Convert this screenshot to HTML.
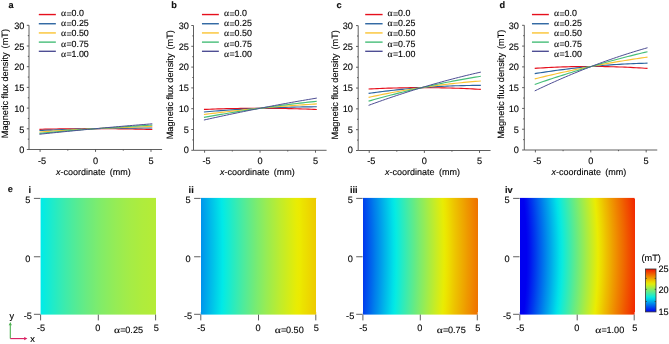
<!DOCTYPE html>
<html><head><meta charset="utf-8"><style>
html,body{margin:0;padding:0;background:#fff;}
body{width:669px;height:344px;overflow:hidden;}
svg{display:block;font-family:"Liberation Sans", sans-serif;}
text{filter:grayscale(1);text-rendering:geometricPrecision;stroke:#000;stroke-width:0.12px;}
</style></head><body>
<svg width="669" height="344" viewBox="0 0 669 344">
<defs><linearGradient id="g0" gradientUnits="userSpaceOnUse" x1="26.60" y1="0" x2="170.00" y2="0"><stop offset="0.0000" stop-color="rgb(0, 192, 233)"/><stop offset="0.0208" stop-color="rgb(0, 201, 233)"/><stop offset="0.0417" stop-color="rgb(0, 210, 233)"/><stop offset="0.0625" stop-color="rgb(0, 219, 233)"/><stop offset="0.0833" stop-color="rgb(0, 228, 232)"/><stop offset="0.1042" stop-color="rgb(1, 235, 231)"/><stop offset="0.1250" stop-color="rgb(9, 235, 223)"/><stop offset="0.1458" stop-color="rgb(17, 235, 215)"/><stop offset="0.1667" stop-color="rgb(25, 235, 207)"/><stop offset="0.1875" stop-color="rgb(33, 235, 200)"/><stop offset="0.2083" stop-color="rgb(40, 235, 192)"/><stop offset="0.2292" stop-color="rgb(48, 235, 185)"/><stop offset="0.2500" stop-color="rgb(55, 235, 178)"/><stop offset="0.2708" stop-color="rgb(62, 235, 171)"/><stop offset="0.2917" stop-color="rgb(68, 235, 165)"/><stop offset="0.3125" stop-color="rgb(75, 235, 158)"/><stop offset="0.3333" stop-color="rgb(81, 235, 152)"/><stop offset="0.3542" stop-color="rgb(87, 235, 146)"/><stop offset="0.3750" stop-color="rgb(93, 235, 140)"/><stop offset="0.3958" stop-color="rgb(99, 235, 135)"/><stop offset="0.4167" stop-color="rgb(105, 235, 129)"/><stop offset="0.4375" stop-color="rgb(110, 235, 124)"/><stop offset="0.4583" stop-color="rgb(115, 235, 119)"/><stop offset="0.4792" stop-color="rgb(120, 236, 114)"/><stop offset="0.5000" stop-color="rgb(125, 236, 109)"/><stop offset="0.5208" stop-color="rgb(130, 236, 104)"/><stop offset="0.5417" stop-color="rgb(134, 236, 100)"/><stop offset="0.5625" stop-color="rgb(138, 236, 96)"/><stop offset="0.5833" stop-color="rgb(142, 236, 92)"/><stop offset="0.6042" stop-color="rgb(146, 236, 88)"/><stop offset="0.6250" stop-color="rgb(150, 236, 85)"/><stop offset="0.6458" stop-color="rgb(153, 236, 81)"/><stop offset="0.6667" stop-color="rgb(157, 236, 78)"/><stop offset="0.6875" stop-color="rgb(160, 236, 75)"/><stop offset="0.7083" stop-color="rgb(163, 236, 72)"/><stop offset="0.7292" stop-color="rgb(166, 236, 69)"/><stop offset="0.7500" stop-color="rgb(168, 236, 67)"/><stop offset="0.7708" stop-color="rgb(170, 236, 64)"/><stop offset="0.7917" stop-color="rgb(173, 236, 62)"/><stop offset="0.8125" stop-color="rgb(175, 236, 60)"/><stop offset="0.8333" stop-color="rgb(176, 236, 59)"/><stop offset="0.8542" stop-color="rgb(178, 236, 57)"/><stop offset="0.8750" stop-color="rgb(179, 236, 56)"/><stop offset="0.8958" stop-color="rgb(180, 236, 55)"/><stop offset="0.9167" stop-color="rgb(182, 236, 54)"/><stop offset="0.9375" stop-color="rgb(182, 236, 53)"/><stop offset="0.9583" stop-color="rgb(183, 236, 52)"/><stop offset="0.9792" stop-color="rgb(183, 236, 52)"/><stop offset="1.0000" stop-color="rgb(184, 236, 51)"/></linearGradient><linearGradient id="g1" gradientUnits="userSpaceOnUse" x1="186.80" y1="0" x2="330.20" y2="0"><stop offset="0.0000" stop-color="rgb(0, 80, 237)"/><stop offset="0.0208" stop-color="rgb(0, 93, 237)"/><stop offset="0.0417" stop-color="rgb(0, 107, 236)"/><stop offset="0.0625" stop-color="rgb(0, 120, 236)"/><stop offset="0.0833" stop-color="rgb(0, 134, 235)"/><stop offset="0.1042" stop-color="rgb(0, 147, 235)"/><stop offset="0.1250" stop-color="rgb(0, 160, 235)"/><stop offset="0.1458" stop-color="rgb(0, 172, 234)"/><stop offset="0.1667" stop-color="rgb(0, 185, 234)"/><stop offset="0.1875" stop-color="rgb(0, 197, 233)"/><stop offset="0.2083" stop-color="rgb(0, 209, 233)"/><stop offset="0.2292" stop-color="rgb(0, 221, 232)"/><stop offset="0.2500" stop-color="rgb(0, 233, 232)"/><stop offset="0.2708" stop-color="rgb(10, 235, 222)"/><stop offset="0.2917" stop-color="rgb(21, 235, 211)"/><stop offset="0.3125" stop-color="rgb(32, 235, 200)"/><stop offset="0.3333" stop-color="rgb(43, 235, 189)"/><stop offset="0.3542" stop-color="rgb(54, 235, 179)"/><stop offset="0.3750" stop-color="rgb(65, 235, 168)"/><stop offset="0.3958" stop-color="rgb(76, 235, 158)"/><stop offset="0.4167" stop-color="rgb(86, 235, 148)"/><stop offset="0.4375" stop-color="rgb(96, 235, 138)"/><stop offset="0.4583" stop-color="rgb(106, 235, 128)"/><stop offset="0.4792" stop-color="rgb(116, 235, 118)"/><stop offset="0.5000" stop-color="rgb(125, 236, 109)"/><stop offset="0.5208" stop-color="rgb(134, 236, 100)"/><stop offset="0.5417" stop-color="rgb(144, 236, 91)"/><stop offset="0.5625" stop-color="rgb(153, 236, 82)"/><stop offset="0.5833" stop-color="rgb(161, 236, 73)"/><stop offset="0.6042" stop-color="rgb(170, 236, 65)"/><stop offset="0.6250" stop-color="rgb(178, 236, 57)"/><stop offset="0.6458" stop-color="rgb(187, 236, 49)"/><stop offset="0.6667" stop-color="rgb(195, 236, 41)"/><stop offset="0.6875" stop-color="rgb(202, 236, 33)"/><stop offset="0.7083" stop-color="rgb(210, 236, 26)"/><stop offset="0.7292" stop-color="rgb(217, 236, 18)"/><stop offset="0.7500" stop-color="rgb(225, 236, 11)"/><stop offset="0.7708" stop-color="rgb(232, 236, 4)"/><stop offset="0.7917" stop-color="rgb(236, 234, 0)"/><stop offset="0.8125" stop-color="rgb(236, 227, 0)"/><stop offset="0.8333" stop-color="rgb(236, 222, 0)"/><stop offset="0.8542" stop-color="rgb(237, 216, 0)"/><stop offset="0.8750" stop-color="rgb(237, 210, 0)"/><stop offset="0.8958" stop-color="rgb(237, 205, 0)"/><stop offset="0.9167" stop-color="rgb(237, 199, 0)"/><stop offset="0.9375" stop-color="rgb(237, 194, 0)"/><stop offset="0.9583" stop-color="rgb(237, 189, 0)"/><stop offset="0.9792" stop-color="rgb(237, 185, 0)"/><stop offset="1.0000" stop-color="rgb(238, 180, 0)"/></linearGradient><linearGradient id="g1s0" href="#g1" gradientTransform="translate(-1.32,0)"/><linearGradient id="g1s1" href="#g1" gradientTransform="translate(-1.27,0)"/><linearGradient id="g1s2" href="#g1" gradientTransform="translate(-1.21,0)"/><linearGradient id="g1s3" href="#g1" gradientTransform="translate(-1.12,0)"/><linearGradient id="g1s4" href="#g1" gradientTransform="translate(-1.04,0)"/><linearGradient id="g1s5" href="#g1" gradientTransform="translate(-0.96,0)"/><linearGradient id="g1s6" href="#g1" gradientTransform="translate(-0.88,0)"/><linearGradient id="g1s7" href="#g1" gradientTransform="translate(-0.81,0)"/><linearGradient id="g1s8" href="#g1" gradientTransform="translate(-0.74,0)"/><linearGradient id="g1s9" href="#g1" gradientTransform="translate(-0.67,0)"/><linearGradient id="g1s10" href="#g1" gradientTransform="translate(-0.61,0)"/><linearGradient id="g1s11" href="#g1" gradientTransform="translate(-0.55,0)"/><linearGradient id="g1s12" href="#g1" gradientTransform="translate(-0.49,0)"/><linearGradient id="g1s13" href="#g1" gradientTransform="translate(-0.44,0)"/><linearGradient id="g1s14" href="#g1" gradientTransform="translate(-0.39,0)"/><linearGradient id="g1s15" href="#g1" gradientTransform="translate(-0.34,0)"/><linearGradient id="g1s16" href="#g1" gradientTransform="translate(-0.29,0)"/><linearGradient id="g1s17" href="#g1" gradientTransform="translate(-0.25,0)"/><linearGradient id="g1s18" href="#g1" gradientTransform="translate(-0.21,0)"/><linearGradient id="g1s19" href="#g1" gradientTransform="translate(-0.18,0)"/><linearGradient id="g1s20" href="#g1" gradientTransform="translate(-0.15,0)"/><linearGradient id="g1s21" href="#g1" gradientTransform="translate(-0.12,0)"/><linearGradient id="g1s22" href="#g1" gradientTransform="translate(-0.09,0)"/><linearGradient id="g1s23" href="#g1" gradientTransform="translate(-0.07,0)"/><linearGradient id="g1s24" href="#g1" gradientTransform="translate(-0.05,0)"/><linearGradient id="g1s25" href="#g1" gradientTransform="translate(-0.03,0)"/><linearGradient id="g1s26" href="#g1" gradientTransform="translate(-0.02,0)"/><linearGradient id="g1s27" href="#g1" gradientTransform="translate(-0.01,0)"/><linearGradient id="g1s28" href="#g1" gradientTransform="translate(-0.00,0)"/><linearGradient id="g1s29" href="#g1" gradientTransform="translate(-0.00,0)"/><linearGradient id="g1s30" href="#g1" gradientTransform="translate(-0.00,0)"/><linearGradient id="g1s31" href="#g1" gradientTransform="translate(-0.00,0)"/><linearGradient id="g1s32" href="#g1" gradientTransform="translate(-0.01,0)"/><linearGradient id="g1s33" href="#g1" gradientTransform="translate(-0.02,0)"/><linearGradient id="g1s34" href="#g1" gradientTransform="translate(-0.03,0)"/><linearGradient id="g1s35" href="#g1" gradientTransform="translate(-0.05,0)"/><linearGradient id="g1s36" href="#g1" gradientTransform="translate(-0.06,0)"/><linearGradient id="g1s37" href="#g1" gradientTransform="translate(-0.09,0)"/><linearGradient id="g1s38" href="#g1" gradientTransform="translate(-0.11,0)"/><linearGradient id="g1s39" href="#g1" gradientTransform="translate(-0.14,0)"/><linearGradient id="g1s40" href="#g1" gradientTransform="translate(-0.17,0)"/><linearGradient id="g1s41" href="#g1" gradientTransform="translate(-0.20,0)"/><linearGradient id="g1s42" href="#g1" gradientTransform="translate(-0.24,0)"/><linearGradient id="g1s43" href="#g1" gradientTransform="translate(-0.28,0)"/><linearGradient id="g1s44" href="#g1" gradientTransform="translate(-0.33,0)"/><linearGradient id="g1s45" href="#g1" gradientTransform="translate(-0.37,0)"/><linearGradient id="g1s46" href="#g1" gradientTransform="translate(-0.42,0)"/><linearGradient id="g1s47" href="#g1" gradientTransform="translate(-0.48,0)"/><linearGradient id="g1s48" href="#g1" gradientTransform="translate(-0.53,0)"/><linearGradient id="g1s49" href="#g1" gradientTransform="translate(-0.59,0)"/><linearGradient id="g1s50" href="#g1" gradientTransform="translate(-0.66,0)"/><linearGradient id="g1s51" href="#g1" gradientTransform="translate(-0.72,0)"/><linearGradient id="g1s52" href="#g1" gradientTransform="translate(-0.79,0)"/><linearGradient id="g1s53" href="#g1" gradientTransform="translate(-0.86,0)"/><linearGradient id="g1s54" href="#g1" gradientTransform="translate(-0.94,0)"/><linearGradient id="g1s55" href="#g1" gradientTransform="translate(-1.02,0)"/><linearGradient id="g1s56" href="#g1" gradientTransform="translate(-1.10,0)"/><linearGradient id="g1s57" href="#g1" gradientTransform="translate(-1.18,0)"/><linearGradient id="g1s58" href="#g1" gradientTransform="translate(-1.29,0)"/><linearGradient id="g2" gradientUnits="userSpaceOnUse" x1="348.90" y1="0" x2="491.70" y2="0"><stop offset="0.0000" stop-color="rgb(0, 0, 240)"/><stop offset="0.0208" stop-color="rgb(0, 0, 240)"/><stop offset="0.0417" stop-color="rgb(0, 3, 240)"/><stop offset="0.0625" stop-color="rgb(0, 21, 239)"/><stop offset="0.0833" stop-color="rgb(0, 39, 239)"/><stop offset="0.1042" stop-color="rgb(0, 57, 238)"/><stop offset="0.1250" stop-color="rgb(0, 75, 237)"/><stop offset="0.1458" stop-color="rgb(0, 92, 237)"/><stop offset="0.1667" stop-color="rgb(0, 109, 236)"/><stop offset="0.1875" stop-color="rgb(0, 127, 236)"/><stop offset="0.2083" stop-color="rgb(0, 143, 235)"/><stop offset="0.2292" stop-color="rgb(0, 160, 235)"/><stop offset="0.2500" stop-color="rgb(0, 177, 234)"/><stop offset="0.2708" stop-color="rgb(0, 193, 233)"/><stop offset="0.2917" stop-color="rgb(0, 209, 233)"/><stop offset="0.3125" stop-color="rgb(0, 225, 232)"/><stop offset="0.3333" stop-color="rgb(6, 235, 226)"/><stop offset="0.3542" stop-color="rgb(21, 235, 211)"/><stop offset="0.3750" stop-color="rgb(37, 235, 196)"/><stop offset="0.3958" stop-color="rgb(52, 235, 181)"/><stop offset="0.4167" stop-color="rgb(67, 235, 166)"/><stop offset="0.4375" stop-color="rgb(82, 235, 152)"/><stop offset="0.4583" stop-color="rgb(96, 235, 137)"/><stop offset="0.4792" stop-color="rgb(111, 235, 123)"/><stop offset="0.5000" stop-color="rgb(125, 236, 109)"/><stop offset="0.5208" stop-color="rgb(139, 236, 95)"/><stop offset="0.5417" stop-color="rgb(153, 236, 82)"/><stop offset="0.5625" stop-color="rgb(167, 236, 68)"/><stop offset="0.5833" stop-color="rgb(180, 236, 55)"/><stop offset="0.6042" stop-color="rgb(194, 236, 42)"/><stop offset="0.6250" stop-color="rgb(207, 236, 29)"/><stop offset="0.6458" stop-color="rgb(220, 236, 16)"/><stop offset="0.6667" stop-color="rgb(232, 236, 4)"/><stop offset="0.6875" stop-color="rgb(236, 228, 0)"/><stop offset="0.7083" stop-color="rgb(237, 217, 0)"/><stop offset="0.7292" stop-color="rgb(237, 205, 0)"/><stop offset="0.7500" stop-color="rgb(237, 194, 0)"/><stop offset="0.7708" stop-color="rgb(237, 184, 0)"/><stop offset="0.7917" stop-color="rgb(238, 173, 0)"/><stop offset="0.8125" stop-color="rgb(238, 163, 0)"/><stop offset="0.8333" stop-color="rgb(238, 152, 0)"/><stop offset="0.8542" stop-color="rgb(239, 142, 0)"/><stop offset="0.8750" stop-color="rgb(239, 132, 0)"/><stop offset="0.8958" stop-color="rgb(239, 122, 0)"/><stop offset="0.9167" stop-color="rgb(239, 113, 0)"/><stop offset="0.9375" stop-color="rgb(240, 103, 0)"/><stop offset="0.9583" stop-color="rgb(240, 94, 0)"/><stop offset="0.9792" stop-color="rgb(240, 85, 0)"/><stop offset="1.0000" stop-color="rgb(240, 76, 0)"/></linearGradient><linearGradient id="g2s0" href="#g2" gradientTransform="translate(-1.75,0)"/><linearGradient id="g2s1" href="#g2" gradientTransform="translate(-1.69,0)"/><linearGradient id="g2s2" href="#g2" gradientTransform="translate(-1.60,0)"/><linearGradient id="g2s3" href="#g2" gradientTransform="translate(-1.49,0)"/><linearGradient id="g2s4" href="#g2" gradientTransform="translate(-1.38,0)"/><linearGradient id="g2s5" href="#g2" gradientTransform="translate(-1.27,0)"/><linearGradient id="g2s6" href="#g2" gradientTransform="translate(-1.17,0)"/><linearGradient id="g2s7" href="#g2" gradientTransform="translate(-1.07,0)"/><linearGradient id="g2s8" href="#g2" gradientTransform="translate(-0.98,0)"/><linearGradient id="g2s9" href="#g2" gradientTransform="translate(-0.89,0)"/><linearGradient id="g2s10" href="#g2" gradientTransform="translate(-0.81,0)"/><linearGradient id="g2s11" href="#g2" gradientTransform="translate(-0.73,0)"/><linearGradient id="g2s12" href="#g2" gradientTransform="translate(-0.65,0)"/><linearGradient id="g2s13" href="#g2" gradientTransform="translate(-0.58,0)"/><linearGradient id="g2s14" href="#g2" gradientTransform="translate(-0.51,0)"/><linearGradient id="g2s15" href="#g2" gradientTransform="translate(-0.45,0)"/><linearGradient id="g2s16" href="#g2" gradientTransform="translate(-0.39,0)"/><linearGradient id="g2s17" href="#g2" gradientTransform="translate(-0.33,0)"/><linearGradient id="g2s18" href="#g2" gradientTransform="translate(-0.28,0)"/><linearGradient id="g2s19" href="#g2" gradientTransform="translate(-0.24,0)"/><linearGradient id="g2s20" href="#g2" gradientTransform="translate(-0.19,0)"/><linearGradient id="g2s21" href="#g2" gradientTransform="translate(-0.16,0)"/><linearGradient id="g2s22" href="#g2" gradientTransform="translate(-0.12,0)"/><linearGradient id="g2s23" href="#g2" gradientTransform="translate(-0.09,0)"/><linearGradient id="g2s24" href="#g2" gradientTransform="translate(-0.07,0)"/><linearGradient id="g2s25" href="#g2" gradientTransform="translate(-0.04,0)"/><linearGradient id="g2s26" href="#g2" gradientTransform="translate(-0.03,0)"/><linearGradient id="g2s27" href="#g2" gradientTransform="translate(-0.01,0)"/><linearGradient id="g2s28" href="#g2" gradientTransform="translate(-0.01,0)"/><linearGradient id="g2s29" href="#g2" gradientTransform="translate(-0.00,0)"/><linearGradient id="g2s30" href="#g2" gradientTransform="translate(-0.00,0)"/><linearGradient id="g2s31" href="#g2" gradientTransform="translate(-0.00,0)"/><linearGradient id="g2s32" href="#g2" gradientTransform="translate(-0.01,0)"/><linearGradient id="g2s33" href="#g2" gradientTransform="translate(-0.02,0)"/><linearGradient id="g2s34" href="#g2" gradientTransform="translate(-0.04,0)"/><linearGradient id="g2s35" href="#g2" gradientTransform="translate(-0.06,0)"/><linearGradient id="g2s36" href="#g2" gradientTransform="translate(-0.09,0)"/><linearGradient id="g2s37" href="#g2" gradientTransform="translate(-0.11,0)"/><linearGradient id="g2s38" href="#g2" gradientTransform="translate(-0.15,0)"/><linearGradient id="g2s39" href="#g2" gradientTransform="translate(-0.18,0)"/><linearGradient id="g2s40" href="#g2" gradientTransform="translate(-0.23,0)"/><linearGradient id="g2s41" href="#g2" gradientTransform="translate(-0.27,0)"/><linearGradient id="g2s42" href="#g2" gradientTransform="translate(-0.32,0)"/><linearGradient id="g2s43" href="#g2" gradientTransform="translate(-0.37,0)"/><linearGradient id="g2s44" href="#g2" gradientTransform="translate(-0.43,0)"/><linearGradient id="g2s45" href="#g2" gradientTransform="translate(-0.50,0)"/><linearGradient id="g2s46" href="#g2" gradientTransform="translate(-0.56,0)"/><linearGradient id="g2s47" href="#g2" gradientTransform="translate(-0.63,0)"/><linearGradient id="g2s48" href="#g2" gradientTransform="translate(-0.71,0)"/><linearGradient id="g2s49" href="#g2" gradientTransform="translate(-0.79,0)"/><linearGradient id="g2s50" href="#g2" gradientTransform="translate(-0.87,0)"/><linearGradient id="g2s51" href="#g2" gradientTransform="translate(-0.96,0)"/><linearGradient id="g2s52" href="#g2" gradientTransform="translate(-1.05,0)"/><linearGradient id="g2s53" href="#g2" gradientTransform="translate(-1.14,0)"/><linearGradient id="g2s54" href="#g2" gradientTransform="translate(-1.24,0)"/><linearGradient id="g2s55" href="#g2" gradientTransform="translate(-1.35,0)"/><linearGradient id="g2s56" href="#g2" gradientTransform="translate(-1.46,0)"/><linearGradient id="g2s57" href="#g2" gradientTransform="translate(-1.57,0)"/><linearGradient id="g2s58" href="#g2" gradientTransform="translate(-1.70,0)"/><linearGradient id="g3" gradientUnits="userSpaceOnUse" x1="505.80" y1="0" x2="648.60" y2="0"><stop offset="0.0000" stop-color="rgb(0, 0, 240)"/><stop offset="0.0208" stop-color="rgb(0, 0, 240)"/><stop offset="0.0417" stop-color="rgb(0, 0, 240)"/><stop offset="0.0625" stop-color="rgb(0, 0, 240)"/><stop offset="0.0833" stop-color="rgb(0, 0, 240)"/><stop offset="0.1042" stop-color="rgb(0, 0, 240)"/><stop offset="0.1250" stop-color="rgb(0, 0, 240)"/><stop offset="0.1458" stop-color="rgb(0, 0, 240)"/><stop offset="0.1667" stop-color="rgb(0, 16, 239)"/><stop offset="0.1875" stop-color="rgb(0, 38, 239)"/><stop offset="0.2083" stop-color="rgb(0, 59, 238)"/><stop offset="0.2292" stop-color="rgb(0, 81, 237)"/><stop offset="0.2500" stop-color="rgb(0, 102, 237)"/><stop offset="0.2708" stop-color="rgb(0, 123, 236)"/><stop offset="0.2917" stop-color="rgb(0, 144, 235)"/><stop offset="0.3125" stop-color="rgb(0, 164, 234)"/><stop offset="0.3333" stop-color="rgb(0, 185, 234)"/><stop offset="0.3542" stop-color="rgb(0, 205, 233)"/><stop offset="0.3750" stop-color="rgb(0, 225, 232)"/><stop offset="0.3958" stop-color="rgb(10, 235, 222)"/><stop offset="0.4167" stop-color="rgb(30, 235, 203)"/><stop offset="0.4375" stop-color="rgb(49, 235, 184)"/><stop offset="0.4583" stop-color="rgb(68, 235, 165)"/><stop offset="0.4792" stop-color="rgb(88, 235, 146)"/><stop offset="0.5000" stop-color="rgb(107, 235, 127)"/><stop offset="0.5208" stop-color="rgb(125, 236, 109)"/><stop offset="0.5417" stop-color="rgb(144, 236, 90)"/><stop offset="0.5625" stop-color="rgb(163, 236, 72)"/><stop offset="0.5833" stop-color="rgb(181, 236, 54)"/><stop offset="0.6042" stop-color="rgb(199, 236, 37)"/><stop offset="0.6250" stop-color="rgb(217, 236, 19)"/><stop offset="0.6458" stop-color="rgb(234, 236, 2)"/><stop offset="0.6667" stop-color="rgb(236, 222, 0)"/><stop offset="0.6875" stop-color="rgb(237, 206, 0)"/><stop offset="0.7083" stop-color="rgb(237, 190, 0)"/><stop offset="0.7292" stop-color="rgb(238, 175, 0)"/><stop offset="0.7500" stop-color="rgb(238, 159, 0)"/><stop offset="0.7708" stop-color="rgb(239, 144, 0)"/><stop offset="0.7917" stop-color="rgb(239, 129, 0)"/><stop offset="0.8125" stop-color="rgb(239, 115, 0)"/><stop offset="0.8333" stop-color="rgb(240, 100, 0)"/><stop offset="0.8542" stop-color="rgb(240, 85, 0)"/><stop offset="0.8750" stop-color="rgb(241, 71, 0)"/><stop offset="0.8958" stop-color="rgb(241, 57, 0)"/><stop offset="0.9167" stop-color="rgb(241, 43, 0)"/><stop offset="0.9375" stop-color="rgb(242, 30, 0)"/><stop offset="0.9583" stop-color="rgb(242, 20, 0)"/><stop offset="0.9792" stop-color="rgb(242, 20, 0)"/><stop offset="1.0000" stop-color="rgb(242, 20, 0)"/></linearGradient><linearGradient id="g3s0" href="#g3" gradientTransform="translate(-3.17,0)"/><linearGradient id="g3s1" href="#g3" gradientTransform="translate(-3.06,0)"/><linearGradient id="g3s2" href="#g3" gradientTransform="translate(-2.90,0)"/><linearGradient id="g3s3" href="#g3" gradientTransform="translate(-2.69,0)"/><linearGradient id="g3s4" href="#g3" gradientTransform="translate(-2.49,0)"/><linearGradient id="g3s5" href="#g3" gradientTransform="translate(-2.30,0)"/><linearGradient id="g3s6" href="#g3" gradientTransform="translate(-2.12,0)"/><linearGradient id="g3s7" href="#g3" gradientTransform="translate(-1.94,0)"/><linearGradient id="g3s8" href="#g3" gradientTransform="translate(-1.78,0)"/><linearGradient id="g3s9" href="#g3" gradientTransform="translate(-1.62,0)"/><linearGradient id="g3s10" href="#g3" gradientTransform="translate(-1.46,0)"/><linearGradient id="g3s11" href="#g3" gradientTransform="translate(-1.32,0)"/><linearGradient id="g3s12" href="#g3" gradientTransform="translate(-1.18,0)"/><linearGradient id="g3s13" href="#g3" gradientTransform="translate(-1.05,0)"/><linearGradient id="g3s14" href="#g3" gradientTransform="translate(-0.93,0)"/><linearGradient id="g3s15" href="#g3" gradientTransform="translate(-0.81,0)"/><linearGradient id="g3s16" href="#g3" gradientTransform="translate(-0.70,0)"/><linearGradient id="g3s17" href="#g3" gradientTransform="translate(-0.61,0)"/><linearGradient id="g3s18" href="#g3" gradientTransform="translate(-0.51,0)"/><linearGradient id="g3s19" href="#g3" gradientTransform="translate(-0.43,0)"/><linearGradient id="g3s20" href="#g3" gradientTransform="translate(-0.35,0)"/><linearGradient id="g3s21" href="#g3" gradientTransform="translate(-0.28,0)"/><linearGradient id="g3s22" href="#g3" gradientTransform="translate(-0.22,0)"/><linearGradient id="g3s23" href="#g3" gradientTransform="translate(-0.17,0)"/><linearGradient id="g3s24" href="#g3" gradientTransform="translate(-0.12,0)"/><linearGradient id="g3s25" href="#g3" gradientTransform="translate(-0.08,0)"/><linearGradient id="g3s26" href="#g3" gradientTransform="translate(-0.05,0)"/><linearGradient id="g3s27" href="#g3" gradientTransform="translate(-0.03,0)"/><linearGradient id="g3s28" href="#g3" gradientTransform="translate(-0.01,0)"/><linearGradient id="g3s29" href="#g3" gradientTransform="translate(-0.00,0)"/><linearGradient id="g3s30" href="#g3" gradientTransform="translate(-0.00,0)"/><linearGradient id="g3s31" href="#g3" gradientTransform="translate(-0.01,0)"/><linearGradient id="g3s32" href="#g3" gradientTransform="translate(-0.02,0)"/><linearGradient id="g3s33" href="#g3" gradientTransform="translate(-0.04,0)"/><linearGradient id="g3s34" href="#g3" gradientTransform="translate(-0.07,0)"/><linearGradient id="g3s35" href="#g3" gradientTransform="translate(-0.11,0)"/><linearGradient id="g3s36" href="#g3" gradientTransform="translate(-0.15,0)"/><linearGradient id="g3s37" href="#g3" gradientTransform="translate(-0.21,0)"/><linearGradient id="g3s38" href="#g3" gradientTransform="translate(-0.27,0)"/><linearGradient id="g3s39" href="#g3" gradientTransform="translate(-0.33,0)"/><linearGradient id="g3s40" href="#g3" gradientTransform="translate(-0.41,0)"/><linearGradient id="g3s41" href="#g3" gradientTransform="translate(-0.49,0)"/><linearGradient id="g3s42" href="#g3" gradientTransform="translate(-0.58,0)"/><linearGradient id="g3s43" href="#g3" gradientTransform="translate(-0.68,0)"/><linearGradient id="g3s44" href="#g3" gradientTransform="translate(-0.78,0)"/><linearGradient id="g3s45" href="#g3" gradientTransform="translate(-0.90,0)"/><linearGradient id="g3s46" href="#g3" gradientTransform="translate(-1.02,0)"/><linearGradient id="g3s47" href="#g3" gradientTransform="translate(-1.15,0)"/><linearGradient id="g3s48" href="#g3" gradientTransform="translate(-1.28,0)"/><linearGradient id="g3s49" href="#g3" gradientTransform="translate(-1.43,0)"/><linearGradient id="g3s50" href="#g3" gradientTransform="translate(-1.58,0)"/><linearGradient id="g3s51" href="#g3" gradientTransform="translate(-1.73,0)"/><linearGradient id="g3s52" href="#g3" gradientTransform="translate(-1.90,0)"/><linearGradient id="g3s53" href="#g3" gradientTransform="translate(-2.07,0)"/><linearGradient id="g3s54" href="#g3" gradientTransform="translate(-2.26,0)"/><linearGradient id="g3s55" href="#g3" gradientTransform="translate(-2.45,0)"/><linearGradient id="g3s56" href="#g3" gradientTransform="translate(-2.64,0)"/><linearGradient id="g3s57" href="#g3" gradientTransform="translate(-2.85,0)"/><linearGradient id="g3s58" href="#g3" gradientTransform="translate(-3.09,0)"/><linearGradient id="cb" x1="0" x2="0" y1="0" y2="1"><stop offset="0.000" stop-color="rgb(242, 20, 0)"/><stop offset="0.050" stop-color="rgb(241, 52, 0)"/><stop offset="0.100" stop-color="rgb(240, 85, 0)"/><stop offset="0.150" stop-color="rgb(239, 117, 0)"/><stop offset="0.200" stop-color="rgb(238, 150, 0)"/><stop offset="0.250" stop-color="rgb(238, 182, 0)"/><stop offset="0.300" stop-color="rgb(237, 214, 0)"/><stop offset="0.350" stop-color="rgb(224, 236, 12)"/><stop offset="0.400" stop-color="rgb(189, 236, 46)"/><stop offset="0.450" stop-color="rgb(153, 236, 81)"/><stop offset="0.500" stop-color="rgb(118, 236, 116)"/><stop offset="0.550" stop-color="rgb(83, 235, 151)"/><stop offset="0.600" stop-color="rgb(47, 235, 186)"/><stop offset="0.650" stop-color="rgb(12, 235, 220)"/><stop offset="0.700" stop-color="rgb(0, 212, 233)"/><stop offset="0.750" stop-color="rgb(0, 176, 234)"/><stop offset="0.800" stop-color="rgb(0, 141, 235)"/><stop offset="0.850" stop-color="rgb(0, 106, 236)"/><stop offset="0.900" stop-color="rgb(0, 70, 238)"/><stop offset="0.950" stop-color="rgb(0, 35, 239)"/><stop offset="1.000" stop-color="rgb(0, 0, 240)"/></linearGradient></defs>
<text x="8.40" y="7.85" font-size="9.2" text-anchor="start" font-weight="bold" fill="#111" >a</text>
<path d="M29.00,25.30 V149.50 H162.08" fill="none" stroke="#4e4e4e" stroke-width="0.9"/>
<text x="24.40" y="153.45" font-size="9.2" text-anchor="end" font-weight="normal" fill="#000" >0</text>
<text x="24.40" y="132.68" font-size="9.2" text-anchor="end" font-weight="normal" fill="#000" >5</text>
<text x="24.40" y="111.90" font-size="9.2" text-anchor="end" font-weight="normal" fill="#000" >10</text>
<text x="24.40" y="91.12" font-size="9.2" text-anchor="end" font-weight="normal" fill="#000" >15</text>
<text x="24.40" y="70.35" font-size="9.2" text-anchor="end" font-weight="normal" fill="#000" >20</text>
<text x="24.40" y="49.58" font-size="9.2" text-anchor="end" font-weight="normal" fill="#000" >25</text>
<text x="24.40" y="28.80" font-size="9.2" text-anchor="end" font-weight="normal" fill="#000" >30</text>
<path d="M26.80,149.50 H29.00 M26.80,128.80 H29.00 M26.80,108.10 H29.00 M26.80,87.40 H29.00 M26.80,66.70 H29.00 M26.80,46.00 H29.00 M26.80,25.30 H29.00 M27.80,139.15 H29.00 M27.80,118.45 H29.00 M27.80,97.75 H29.00 M27.80,77.05 H29.00 M27.80,56.35 H29.00 M27.80,35.65 H29.00 M40.09,149.50 V151.90 M95.54,149.50 V151.90 M150.99,149.50 V151.90 M67.81,149.50 V150.70 M123.27,149.50 V150.70" stroke="#4e4e4e" stroke-width="0.9" fill="none"/>
<text x="42.09" y="163.70" font-size="9.2" text-anchor="middle" font-weight="normal" fill="#000" >-5</text>
<text x="95.54" y="163.70" font-size="9.2" text-anchor="middle" font-weight="normal" fill="#000" >0</text>
<text x="150.99" y="163.70" font-size="9.2" text-anchor="middle" font-weight="normal" fill="#000" >5</text>
<text x="56.00" y="175.2" font-size="9.0" fill="#000"><tspan font-style="italic">x</tspan>-coordinate<tspan dx="1.8"> (mm)</tspan></text>
<text transform="translate(8.40,83.60) rotate(-90)" font-size="9.2" text-anchor="middle" fill="#000">Magnetic flux density<tspan dx="1.5"> (mT)</tspan></text>
<polyline points="39.42,129.31 42.25,129.25 45.07,129.19 47.89,129.13 50.71,129.07 53.54,129.02 56.36,128.97 59.18,128.93 62.00,128.89 64.83,128.85 67.65,128.82 70.47,128.79 73.29,128.76 76.12,128.74 78.94,128.72 81.76,128.70 84.58,128.69 87.41,128.68 90.23,128.68 93.05,128.67 95.87,128.68 98.70,128.68 101.52,128.69 104.34,128.70 107.16,128.72 109.98,128.74 112.81,128.76 115.63,128.79 118.45,128.82 121.27,128.85 124.10,128.89 126.92,128.93 129.74,128.97 132.56,129.02 135.39,129.07 138.21,129.13 141.03,129.19 143.85,129.25 146.68,129.31 149.50,129.38 152.32,129.46" fill="none" stroke="#e60f1c" stroke-width="1.15"/>
<polyline points="39.42,130.53 42.25,130.41 45.07,130.29 47.89,130.17 50.71,130.06 53.54,129.95 56.36,129.85 59.18,129.74 62.00,129.64 64.83,129.55 67.65,129.45 70.47,129.36 73.29,129.27 76.12,129.19 78.94,129.10 81.76,129.02 84.58,128.95 87.41,128.87 90.23,128.80 93.05,128.73 95.87,128.67 98.70,128.61 101.52,128.55 104.34,128.49 107.16,128.44 109.98,128.38 112.81,128.34 115.63,128.29 118.45,128.25 121.27,128.21 124.10,128.17 126.92,128.14 129.74,128.11 132.56,128.08 135.39,128.06 138.21,128.04 141.03,128.02 143.85,128.00 146.68,127.99 149.50,127.98 152.32,127.97" fill="none" stroke="#2b64a0" stroke-width="1.15"/>
<polyline points="39.42,131.95 42.25,131.76 45.07,131.57 47.89,131.39 50.71,131.21 53.54,131.03 56.36,130.85 59.18,130.68 62.00,130.51 64.83,130.34 67.65,130.17 70.47,130.01 73.29,129.85 76.12,129.69 78.94,129.53 81.76,129.38 84.58,129.23 87.41,129.08 90.23,128.94 93.05,128.80 95.87,128.66 98.70,128.52 101.52,128.39 104.34,128.26 107.16,128.13 109.98,128.00 112.81,127.88 115.63,127.76 118.45,127.64 121.27,127.53 124.10,127.42 126.92,127.31 129.74,127.20 132.56,127.10 135.39,126.99 138.21,126.90 141.03,126.80 143.85,126.71 146.68,126.62 149.50,126.53 152.32,126.44" fill="none" stroke="#fac332" stroke-width="1.15"/>
<polyline points="39.42,133.38 42.25,133.11 45.07,132.85 47.89,132.59 50.71,132.33 53.54,132.08 56.36,131.83 59.18,131.59 62.00,131.34 64.83,131.10 67.65,130.86 70.47,130.63 73.29,130.40 76.12,130.17 78.94,129.94 81.76,129.72 84.58,129.50 87.41,129.28 90.23,129.07 93.05,128.86 95.87,128.65 98.70,128.45 101.52,128.25 104.34,128.05 107.16,127.85 109.98,127.66 112.81,127.47 115.63,127.28 118.45,127.10 121.27,126.92 124.10,126.74 126.92,126.57 129.74,126.39 132.56,126.23 135.39,126.06 138.21,125.90 141.03,125.74 143.85,125.58 146.68,125.43 149.50,125.28 152.32,125.13" fill="none" stroke="#46be78" stroke-width="1.15"/>
<polyline points="39.42,134.25 42.25,133.95 45.07,133.66 47.89,133.36 50.71,133.07 53.54,132.78 56.36,132.49 59.18,132.20 62.00,131.92 64.83,131.63 67.65,131.35 70.47,131.07 73.29,130.80 76.12,130.52 78.94,130.25 81.76,129.97 84.58,129.70 87.41,129.44 90.23,129.17 93.05,128.91 95.87,128.65 98.70,128.38 101.52,128.13 104.34,127.87 107.16,127.62 109.98,127.36 112.81,127.11 115.63,126.86 118.45,126.62 121.27,126.37 124.10,126.13 126.92,125.89 129.74,125.65 132.56,125.41 135.39,125.18 138.21,124.95 141.03,124.71 143.85,124.49 146.68,124.26 149.50,124.03 152.32,123.81" fill="none" stroke="#4e4e94" stroke-width="1.0"/>
<line x1="38.80" y1="14.55" x2="55.85" y2="14.55" stroke="#e60f1c" stroke-width="1.4"/>
<text x="0" y="0" font-size="9.2" font-family="'Liberation Serif', serif" fill="#000" transform="translate(60.90,16.30) scale(1.05,1)">&#945;</text><text x="66.50" y="16.60" font-size="8.9" fill="#000">=</text><text x="71.50" y="16.30" font-size="8.9" fill="#000">0.0</text>
<line x1="38.80" y1="23.74" x2="55.85" y2="23.74" stroke="#2b64a0" stroke-width="1.4"/>
<text x="0" y="0" font-size="9.2" font-family="'Liberation Serif', serif" fill="#000" transform="translate(60.90,26.37) scale(1.05,1)">&#945;</text><text x="66.50" y="26.67" font-size="8.9" fill="#000">=</text><text x="71.50" y="26.37" font-size="8.9" fill="#000">0.25</text>
<line x1="38.80" y1="32.93" x2="55.85" y2="32.93" stroke="#fac332" stroke-width="1.4"/>
<text x="0" y="0" font-size="9.2" font-family="'Liberation Serif', serif" fill="#000" transform="translate(60.90,36.44) scale(1.05,1)">&#945;</text><text x="66.50" y="36.74" font-size="8.9" fill="#000">=</text><text x="71.50" y="36.44" font-size="8.9" fill="#000">0.50</text>
<line x1="38.80" y1="42.12" x2="55.85" y2="42.12" stroke="#46be78" stroke-width="1.4"/>
<text x="0" y="0" font-size="9.2" font-family="'Liberation Serif', serif" fill="#000" transform="translate(60.90,46.51) scale(1.05,1)">&#945;</text><text x="66.50" y="46.81" font-size="8.9" fill="#000">=</text><text x="71.50" y="46.51" font-size="8.9" fill="#000">0.75</text>
<line x1="38.80" y1="51.31" x2="55.85" y2="51.31" stroke="#4e4e94" stroke-width="1.4"/>
<text x="0" y="0" font-size="9.2" font-family="'Liberation Serif', serif" fill="#000" transform="translate(60.90,56.58) scale(1.05,1)">&#945;</text><text x="66.50" y="56.88" font-size="8.9" fill="#000">=</text><text x="71.50" y="56.58" font-size="8.9" fill="#000">1.00</text>
<text x="171.30" y="7.85" font-size="9.2" text-anchor="start" font-weight="bold" fill="#111" >b</text>
<path d="M193.50,25.50 V150.30 H326.58" fill="none" stroke="#4e4e4e" stroke-width="0.9"/>
<text x="188.90" y="153.45" font-size="9.2" text-anchor="end" font-weight="normal" fill="#000" >0</text>
<text x="188.90" y="132.68" font-size="9.2" text-anchor="end" font-weight="normal" fill="#000" >5</text>
<text x="188.90" y="111.90" font-size="9.2" text-anchor="end" font-weight="normal" fill="#000" >10</text>
<text x="188.90" y="91.12" font-size="9.2" text-anchor="end" font-weight="normal" fill="#000" >15</text>
<text x="188.90" y="70.35" font-size="9.2" text-anchor="end" font-weight="normal" fill="#000" >20</text>
<text x="188.90" y="49.58" font-size="9.2" text-anchor="end" font-weight="normal" fill="#000" >25</text>
<text x="188.90" y="28.80" font-size="9.2" text-anchor="end" font-weight="normal" fill="#000" >30</text>
<path d="M191.30,150.30 H193.50 M191.30,129.50 H193.50 M191.30,108.70 H193.50 M191.30,87.90 H193.50 M191.30,67.10 H193.50 M191.30,46.30 H193.50 M191.30,25.50 H193.50 M192.30,139.90 H193.50 M192.30,119.10 H193.50 M192.30,98.30 H193.50 M192.30,77.50 H193.50 M192.30,56.70 H193.50 M192.30,35.90 H193.50 M204.59,150.30 V152.70 M260.04,150.30 V152.70 M315.49,150.30 V152.70 M232.31,150.30 V151.50 M287.76,150.30 V151.50" stroke="#4e4e4e" stroke-width="0.9" fill="none"/>
<text x="206.59" y="163.70" font-size="9.2" text-anchor="middle" font-weight="normal" fill="#000" >-5</text>
<text x="260.04" y="163.70" font-size="9.2" text-anchor="middle" font-weight="normal" fill="#000" >0</text>
<text x="315.49" y="163.70" font-size="9.2" text-anchor="middle" font-weight="normal" fill="#000" >5</text>
<text x="220.00" y="175.2" font-size="9.0" fill="#000"><tspan font-style="italic">x</tspan>-coordinate<tspan dx="1.8"> (mm)</tspan></text>
<text transform="translate(173.40,84.70) rotate(-90)" font-size="9.2" text-anchor="middle" fill="#000">Magnetic flux density<tspan dx="1.5"> (mT)</tspan></text>
<polyline points="203.92,109.43 206.75,109.32 209.57,109.21 212.39,109.11 215.21,109.02 218.04,108.93 220.86,108.84 223.68,108.77 226.50,108.69 229.33,108.63 232.15,108.57 234.97,108.51 237.79,108.46 240.62,108.42 243.44,108.38 246.26,108.35 249.08,108.33 251.91,108.31 254.73,108.29 257.55,108.29 260.37,108.28 263.20,108.29 266.02,108.30 268.84,108.31 271.66,108.33 274.48,108.36 277.31,108.39 280.13,108.43 282.95,108.48 285.77,108.53 288.60,108.58 291.42,108.64 294.24,108.71 297.06,108.78 299.89,108.86 302.71,108.95 305.53,109.04 308.35,109.14 311.18,109.24 314.00,109.35 316.82,109.46" fill="none" stroke="#e60f1c" stroke-width="1.15"/>
<polyline points="203.92,111.96 206.75,111.72 209.57,111.49 212.39,111.27 215.21,111.05 218.04,110.83 220.86,110.62 223.68,110.42 226.50,110.22 229.33,110.03 232.15,109.84 234.97,109.66 237.79,109.48 240.62,109.31 243.44,109.15 246.26,108.99 249.08,108.83 251.91,108.68 254.73,108.54 257.55,108.40 260.37,108.27 263.20,108.14 266.02,108.02 268.84,107.90 271.66,107.79 274.48,107.69 277.31,107.59 280.13,107.50 282.95,107.41 285.77,107.33 288.60,107.25 291.42,107.18 294.24,107.11 297.06,107.05 299.89,106.99 302.71,106.94 305.53,106.90 308.35,106.86 311.18,106.83 314.00,106.80 316.82,106.78" fill="none" stroke="#2b64a0" stroke-width="1.15"/>
<polyline points="203.92,114.48 206.75,114.13 209.57,113.78 212.39,113.43 215.21,113.09 218.04,112.75 220.86,112.42 223.68,112.09 226.50,111.76 229.33,111.45 232.15,111.13 234.97,110.82 237.79,110.52 240.62,110.22 243.44,109.92 246.26,109.63 249.08,109.35 251.91,109.07 254.73,108.79 257.55,108.52 260.37,108.25 263.20,107.99 266.02,107.73 268.84,107.48 271.66,107.23 274.48,106.99 277.31,106.75 280.13,106.52 282.95,106.29 285.77,106.07 288.60,105.85 291.42,105.63 294.24,105.42 297.06,105.22 299.89,105.02 302.71,104.82 305.53,104.63 308.35,104.45 311.18,104.27 314.00,104.09 316.82,103.92" fill="none" stroke="#fac332" stroke-width="1.15"/>
<polyline points="203.92,117.43 206.75,116.92 209.57,116.41 212.39,115.91 215.21,115.41 218.04,114.92 220.86,114.44 223.68,113.96 226.50,113.49 229.33,113.02 232.15,112.55 234.97,112.10 237.79,111.65 240.62,111.20 243.44,110.76 246.26,110.33 249.08,109.90 251.91,109.47 254.73,109.06 257.55,108.64 260.37,108.24 263.20,107.84 266.02,107.44 268.84,107.05 271.66,106.67 274.48,106.29 277.31,105.91 280.13,105.55 282.95,105.19 285.77,104.83 288.60,104.48 291.42,104.13 294.24,103.79 297.06,103.46 299.89,103.13 302.71,102.81 305.53,102.49 308.35,102.18 311.18,101.88 314.00,101.58 316.82,101.28" fill="none" stroke="#46be78" stroke-width="1.15"/>
<polyline points="203.92,120.04 206.75,119.41 209.57,118.78 212.39,118.16 215.21,117.54 218.04,116.93 220.86,116.32 223.68,115.71 226.50,115.11 229.33,114.51 232.15,113.92 234.97,113.33 237.79,112.75 240.62,112.17 243.44,111.59 246.26,111.02 249.08,110.45 251.91,109.89 254.73,109.33 257.55,108.77 260.37,108.22 263.20,107.67 266.02,107.13 268.84,106.59 271.66,106.06 274.48,105.53 277.31,105.00 280.13,104.48 282.95,103.96 285.77,103.45 288.60,102.94 291.42,102.43 294.24,101.93 297.06,101.44 299.89,100.95 302.71,100.46 305.53,99.97 308.35,99.49 311.18,99.02 314.00,98.55 316.82,98.08" fill="none" stroke="#4e4e94" stroke-width="1.0"/>
<line x1="201.95" y1="14.55" x2="218.85" y2="14.55" stroke="#e60f1c" stroke-width="1.4"/>
<text x="0" y="0" font-size="9.2" font-family="'Liberation Serif', serif" fill="#000" transform="translate(224.00,16.30) scale(1.05,1)">&#945;</text><text x="229.60" y="16.60" font-size="8.9" fill="#000">=</text><text x="234.60" y="16.30" font-size="8.9" fill="#000">0.0</text>
<line x1="201.95" y1="23.74" x2="218.85" y2="23.74" stroke="#2b64a0" stroke-width="1.4"/>
<text x="0" y="0" font-size="9.2" font-family="'Liberation Serif', serif" fill="#000" transform="translate(224.00,26.37) scale(1.05,1)">&#945;</text><text x="229.60" y="26.67" font-size="8.9" fill="#000">=</text><text x="234.60" y="26.37" font-size="8.9" fill="#000">0.25</text>
<line x1="201.95" y1="32.93" x2="218.85" y2="32.93" stroke="#fac332" stroke-width="1.4"/>
<text x="0" y="0" font-size="9.2" font-family="'Liberation Serif', serif" fill="#000" transform="translate(224.00,36.44) scale(1.05,1)">&#945;</text><text x="229.60" y="36.74" font-size="8.9" fill="#000">=</text><text x="234.60" y="36.44" font-size="8.9" fill="#000">0.50</text>
<line x1="201.95" y1="42.12" x2="218.85" y2="42.12" stroke="#46be78" stroke-width="1.4"/>
<text x="0" y="0" font-size="9.2" font-family="'Liberation Serif', serif" fill="#000" transform="translate(224.00,46.51) scale(1.05,1)">&#945;</text><text x="229.60" y="46.81" font-size="8.9" fill="#000">=</text><text x="234.60" y="46.51" font-size="8.9" fill="#000">0.75</text>
<line x1="201.95" y1="51.31" x2="218.85" y2="51.31" stroke="#4e4e94" stroke-width="1.4"/>
<text x="0" y="0" font-size="9.2" font-family="'Liberation Serif', serif" fill="#000" transform="translate(224.00,56.58) scale(1.05,1)">&#945;</text><text x="229.60" y="56.88" font-size="8.9" fill="#000">=</text><text x="234.60" y="56.58" font-size="8.9" fill="#000">1.00</text>
<text x="336.60" y="7.85" font-size="9.2" text-anchor="start" font-weight="bold" fill="#111" >c</text>
<path d="M358.20,25.60 V150.50 H490.56" fill="none" stroke="#4e4e4e" stroke-width="0.9"/>
<text x="352.90" y="153.45" font-size="9.2" text-anchor="end" font-weight="normal" fill="#000" >0</text>
<text x="352.90" y="132.68" font-size="9.2" text-anchor="end" font-weight="normal" fill="#000" >5</text>
<text x="352.90" y="111.90" font-size="9.2" text-anchor="end" font-weight="normal" fill="#000" >10</text>
<text x="352.90" y="91.12" font-size="9.2" text-anchor="end" font-weight="normal" fill="#000" >15</text>
<text x="352.90" y="70.35" font-size="9.2" text-anchor="end" font-weight="normal" fill="#000" >20</text>
<text x="352.90" y="49.58" font-size="9.2" text-anchor="end" font-weight="normal" fill="#000" >25</text>
<text x="352.90" y="28.80" font-size="9.2" text-anchor="end" font-weight="normal" fill="#000" >30</text>
<path d="M356.00,150.50 H358.20 M356.00,129.68 H358.20 M356.00,108.87 H358.20 M356.00,88.05 H358.20 M356.00,67.23 H358.20 M356.00,46.42 H358.20 M356.00,25.60 H358.20 M357.00,140.09 H358.20 M357.00,119.28 H358.20 M357.00,98.46 H358.20 M357.00,77.64 H358.20 M357.00,56.83 H358.20 M357.00,36.01 H358.20 M369.23,150.50 V152.90 M424.38,150.50 V152.90 M479.53,150.50 V152.90 M396.81,150.50 V151.70 M451.95,150.50 V151.70" stroke="#4e4e4e" stroke-width="0.9" fill="none"/>
<text x="371.23" y="163.70" font-size="9.2" text-anchor="middle" font-weight="normal" fill="#000" >-5</text>
<text x="424.38" y="163.70" font-size="9.2" text-anchor="middle" font-weight="normal" fill="#000" >0</text>
<text x="479.53" y="163.70" font-size="9.2" text-anchor="middle" font-weight="normal" fill="#000" >5</text>
<text x="385.10" y="175.2" font-size="9.0" fill="#000"><tspan font-style="italic">x</tspan>-coordinate<tspan dx="1.8"> (mm)</tspan></text>
<text transform="translate(337.60,84.80) rotate(-90)" font-size="9.2" text-anchor="middle" fill="#000">Magnetic flux density<tspan dx="1.5"> (mT)</tspan></text>
<polyline points="368.57,89.04 371.38,88.90 374.18,88.76 376.99,88.63 379.80,88.51 382.60,88.40 385.41,88.29 388.22,88.19 391.03,88.10 393.83,88.02 396.64,87.95 399.45,87.88 402.25,87.82 405.06,87.77 407.87,87.73 410.68,87.69 413.48,87.67 416.29,87.65 419.10,87.64 421.90,87.63 424.71,87.64 427.52,87.65 430.33,87.67 433.13,87.70 435.94,87.73 438.75,87.78 441.55,87.83 444.36,87.89 447.17,87.96 449.98,88.03 452.78,88.11 455.59,88.21 458.40,88.30 461.20,88.41 464.01,88.52 466.82,88.65 469.63,88.78 472.43,88.92 475.24,89.06 478.05,89.21 480.85,89.38" fill="none" stroke="#e60f1c" stroke-width="1.15"/>
<polyline points="368.57,93.39 371.38,93.00 374.18,92.61 376.99,92.24 379.80,91.88 382.60,91.52 385.41,91.18 388.22,90.85 391.03,90.52 393.83,90.21 396.64,89.90 399.45,89.61 402.25,89.33 405.06,89.05 407.87,88.79 410.68,88.53 413.48,88.29 416.29,88.05 419.10,87.83 421.90,87.61 424.71,87.41 427.52,87.21 430.33,87.03 433.13,86.85 435.94,86.69 438.75,86.53 441.55,86.38 444.36,86.25 447.17,86.12 449.98,86.01 452.78,85.90 455.59,85.80 458.40,85.72 461.20,85.64 464.01,85.57 466.82,85.52 469.63,85.47 472.43,85.43 475.24,85.41 478.05,85.39 480.85,85.38" fill="none" stroke="#2b64a0" stroke-width="1.15"/>
<polyline points="368.57,97.35 371.38,96.75 374.18,96.16 376.99,95.57 379.80,95.00 382.60,94.43 385.41,93.88 388.22,93.34 391.03,92.80 393.83,92.28 396.64,91.77 399.45,91.26 402.25,90.77 405.06,90.28 407.87,89.81 410.68,89.35 413.48,88.89 416.29,88.45 419.10,88.02 421.90,87.59 424.71,87.18 427.52,86.77 430.33,86.38 433.13,86.00 435.94,85.62 438.75,85.26 441.55,84.90 444.36,84.56 447.17,84.23 449.98,83.90 452.78,83.59 455.59,83.28 458.40,82.99 461.20,82.71 464.01,82.43 466.82,82.17 469.63,81.91 472.43,81.67 475.24,81.44 478.05,81.21 480.85,81.00" fill="none" stroke="#fac332" stroke-width="1.15"/>
<polyline points="368.57,101.14 371.38,100.35 374.18,99.57 376.99,98.79 379.80,98.02 382.60,97.26 385.41,96.51 388.22,95.77 391.03,95.04 393.83,94.32 396.64,93.60 399.45,92.90 402.25,92.20 405.06,91.51 407.87,90.83 410.68,90.16 413.48,89.50 416.29,88.85 419.10,88.21 421.90,87.57 424.71,86.94 427.52,86.33 430.33,85.72 433.13,85.12 435.94,84.53 438.75,83.94 441.55,83.37 444.36,82.81 447.17,82.25 449.98,81.70 452.78,81.16 455.59,80.63 458.40,80.11 461.20,79.60 464.01,79.10 466.82,78.60 469.63,78.12 472.43,77.64 475.24,77.17 478.05,76.72 480.85,76.26" fill="none" stroke="#46be78" stroke-width="1.15"/>
<polyline points="368.57,105.36 371.38,104.33 374.18,103.32 376.99,102.31 379.80,101.31 382.60,100.32 385.41,99.34 388.22,98.38 391.03,97.42 393.83,96.47 396.64,95.53 399.45,94.61 402.25,93.69 405.06,92.78 407.87,91.88 410.68,91.00 413.48,90.12 416.29,89.25 419.10,88.40 421.90,87.55 424.71,86.71 427.52,85.89 430.33,85.07 433.13,84.26 435.94,83.47 438.75,82.68 441.55,81.90 444.36,81.14 447.17,80.38 449.98,79.64 452.78,78.90 455.59,78.18 458.40,77.46 461.20,76.75 464.01,76.06 466.82,75.37 469.63,74.70 472.43,74.03 475.24,73.38 478.05,72.73 480.85,72.10" fill="none" stroke="#4e4e94" stroke-width="1.0"/>
<line x1="365.20" y1="14.55" x2="382.60" y2="14.55" stroke="#e60f1c" stroke-width="1.4"/>
<text x="0" y="0" font-size="9.2" font-family="'Liberation Serif', serif" fill="#000" transform="translate(387.50,16.30) scale(1.05,1)">&#945;</text><text x="393.10" y="16.60" font-size="8.9" fill="#000">=</text><text x="398.10" y="16.30" font-size="8.9" fill="#000">0.0</text>
<line x1="365.20" y1="23.74" x2="382.60" y2="23.74" stroke="#2b64a0" stroke-width="1.4"/>
<text x="0" y="0" font-size="9.2" font-family="'Liberation Serif', serif" fill="#000" transform="translate(387.50,26.37) scale(1.05,1)">&#945;</text><text x="393.10" y="26.67" font-size="8.9" fill="#000">=</text><text x="398.10" y="26.37" font-size="8.9" fill="#000">0.25</text>
<line x1="365.20" y1="32.93" x2="382.60" y2="32.93" stroke="#fac332" stroke-width="1.4"/>
<text x="0" y="0" font-size="9.2" font-family="'Liberation Serif', serif" fill="#000" transform="translate(387.50,36.44) scale(1.05,1)">&#945;</text><text x="393.10" y="36.74" font-size="8.9" fill="#000">=</text><text x="398.10" y="36.44" font-size="8.9" fill="#000">0.50</text>
<line x1="365.20" y1="42.12" x2="382.60" y2="42.12" stroke="#46be78" stroke-width="1.4"/>
<text x="0" y="0" font-size="9.2" font-family="'Liberation Serif', serif" fill="#000" transform="translate(387.50,46.51) scale(1.05,1)">&#945;</text><text x="393.10" y="46.81" font-size="8.9" fill="#000">=</text><text x="398.10" y="46.51" font-size="8.9" fill="#000">0.75</text>
<line x1="365.20" y1="51.31" x2="382.60" y2="51.31" stroke="#4e4e94" stroke-width="1.4"/>
<text x="0" y="0" font-size="9.2" font-family="'Liberation Serif', serif" fill="#000" transform="translate(387.50,56.58) scale(1.05,1)">&#945;</text><text x="393.10" y="56.88" font-size="8.9" fill="#000">=</text><text x="398.10" y="56.58" font-size="8.9" fill="#000">1.00</text>
<text x="499.60" y="7.85" font-size="9.2" text-anchor="start" font-weight="bold" fill="#111" >d</text>
<path d="M524.30,25.30 V150.00 H657.26" fill="none" stroke="#4e4e4e" stroke-width="0.9"/>
<text x="518.90" y="153.45" font-size="9.2" text-anchor="end" font-weight="normal" fill="#000" >0</text>
<text x="518.90" y="132.68" font-size="9.2" text-anchor="end" font-weight="normal" fill="#000" >5</text>
<text x="518.90" y="111.90" font-size="9.2" text-anchor="end" font-weight="normal" fill="#000" >10</text>
<text x="518.90" y="91.12" font-size="9.2" text-anchor="end" font-weight="normal" fill="#000" >15</text>
<text x="518.90" y="70.35" font-size="9.2" text-anchor="end" font-weight="normal" fill="#000" >20</text>
<text x="518.90" y="49.58" font-size="9.2" text-anchor="end" font-weight="normal" fill="#000" >25</text>
<text x="518.90" y="28.80" font-size="9.2" text-anchor="end" font-weight="normal" fill="#000" >30</text>
<path d="M522.10,150.00 H524.30 M522.10,129.22 H524.30 M522.10,108.43 H524.30 M522.10,87.65 H524.30 M522.10,66.87 H524.30 M522.10,46.08 H524.30 M522.10,25.30 H524.30 M523.10,139.61 H524.30 M523.10,118.82 H524.30 M523.10,98.04 H524.30 M523.10,77.26 H524.30 M523.10,56.47 H524.30 M523.10,35.69 H524.30 M535.38,150.00 V152.40 M590.78,150.00 V152.40 M646.18,150.00 V152.40 M563.08,150.00 V151.20 M618.48,150.00 V151.20" stroke="#4e4e4e" stroke-width="0.9" fill="none"/>
<text x="537.38" y="163.70" font-size="9.2" text-anchor="middle" font-weight="normal" fill="#000" >-5</text>
<text x="590.78" y="163.70" font-size="9.2" text-anchor="middle" font-weight="normal" fill="#000" >0</text>
<text x="646.18" y="163.70" font-size="9.2" text-anchor="middle" font-weight="normal" fill="#000" >5</text>
<text x="551.40" y="175.2" font-size="9.0" fill="#000"><tspan font-style="italic">x</tspan>-coordinate<tspan dx="1.8"> (mm)</tspan></text>
<text transform="translate(504.30,84.20) rotate(-90)" font-size="9.2" text-anchor="middle" fill="#000">Magnetic flux density<tspan dx="1.5"> (mT)</tspan></text>
<polyline points="534.72,68.37 537.54,68.18 540.35,68.00 543.17,67.83 545.99,67.67 548.81,67.52 551.63,67.38 554.45,67.26 557.27,67.14 560.09,67.02 562.91,66.92 565.73,66.83 568.55,66.75 571.37,66.68 574.19,66.62 577.01,66.57 579.83,66.52 582.65,66.49 585.47,66.47 588.29,66.45 591.11,66.45 593.93,66.46 596.75,66.47 599.57,66.50 602.39,66.53 605.21,66.58 608.03,66.63 610.85,66.70 613.67,66.77 616.49,66.85 619.31,66.95 622.13,67.05 624.95,67.16 627.77,67.28 630.59,67.42 633.41,67.56 636.23,67.71 639.05,67.87 641.87,68.04 644.69,68.22 647.51,68.41" fill="none" stroke="#e60f1c" stroke-width="1.15"/>
<polyline points="534.72,73.62 537.54,73.17 540.35,72.74 543.17,72.31 545.99,71.89 548.81,71.47 551.63,71.07 554.45,70.68 557.27,70.30 560.09,69.93 562.91,69.57 565.73,69.21 568.55,68.87 571.37,68.54 574.19,68.21 577.01,67.90 579.83,67.59 582.65,67.30 585.47,67.01 588.29,66.74 591.11,66.47 593.93,66.22 596.75,65.97 599.57,65.73 602.39,65.50 605.21,65.29 608.03,65.08 610.85,64.88 613.67,64.69 616.49,64.51 619.31,64.34 622.13,64.18 624.95,64.03 627.77,63.89 630.59,63.76 633.41,63.64 636.23,63.53 639.05,63.42 641.87,63.33 644.69,63.25 647.51,63.18" fill="none" stroke="#2b64a0" stroke-width="1.15"/>
<polyline points="534.72,78.88 537.54,78.19 540.35,77.50 543.17,76.83 545.99,76.16 548.81,75.50 551.63,74.85 554.45,74.20 557.27,73.56 560.09,72.93 562.91,72.31 565.73,71.69 568.55,71.09 571.37,70.49 574.19,69.89 577.01,69.31 579.83,68.73 582.65,68.16 585.47,67.60 588.29,67.04 591.11,66.49 593.93,65.95 596.75,65.42 599.57,64.90 602.39,64.38 605.21,63.87 608.03,63.37 610.85,62.87 613.67,62.38 616.49,61.90 619.31,61.43 622.13,60.97 624.95,60.51 627.77,60.06 630.59,59.62 633.41,59.18 636.23,58.75 639.05,58.33 641.87,57.92 644.69,57.52 647.51,57.12" fill="none" stroke="#fac332" stroke-width="1.15"/>
<polyline points="534.72,84.43 537.54,83.46 540.35,82.50 543.17,81.54 545.99,80.60 548.81,79.66 551.63,78.73 554.45,77.81 557.27,76.89 560.09,75.98 562.91,75.08 565.73,74.19 568.55,73.31 571.37,72.43 574.19,71.56 577.01,70.70 579.83,69.85 582.65,69.00 585.47,68.17 588.29,67.34 591.11,66.52 593.93,65.70 596.75,64.90 599.57,64.10 602.39,63.31 605.21,62.52 608.03,61.75 610.85,60.98 613.67,60.22 616.49,59.47 619.31,58.73 622.13,57.99 624.95,57.26 627.77,56.54 630.59,55.83 633.41,55.12 636.23,54.43 639.05,53.74 641.87,53.05 644.69,52.38 647.51,51.71" fill="none" stroke="#46be78" stroke-width="1.15"/>
<polyline points="534.72,90.92 537.54,89.57 540.35,88.23 543.17,86.91 545.99,85.60 548.81,84.30 551.63,83.02 554.45,81.75 557.27,80.50 560.09,79.26 562.91,78.03 565.73,76.82 568.55,75.62 571.37,74.43 574.19,73.26 577.01,72.11 579.83,70.97 582.65,69.84 585.47,68.72 588.29,67.62 591.11,66.54 593.93,65.46 596.75,64.40 599.57,63.36 602.39,62.33 605.21,61.31 608.03,60.31 610.85,59.32 613.67,58.35 616.49,57.39 619.31,56.44 622.13,55.51 624.95,54.59 627.77,53.68 630.59,52.79 633.41,51.92 636.23,51.05 639.05,50.20 641.87,49.37 644.69,48.55 647.51,47.74" fill="none" stroke="#4e4e94" stroke-width="1.0"/>
<line x1="531.95" y1="14.55" x2="548.85" y2="14.55" stroke="#e60f1c" stroke-width="1.4"/>
<text x="0" y="0" font-size="9.2" font-family="'Liberation Serif', serif" fill="#000" transform="translate(554.00,16.30) scale(1.05,1)">&#945;</text><text x="559.60" y="16.60" font-size="8.9" fill="#000">=</text><text x="564.60" y="16.30" font-size="8.9" fill="#000">0.0</text>
<line x1="531.95" y1="23.74" x2="548.85" y2="23.74" stroke="#2b64a0" stroke-width="1.4"/>
<text x="0" y="0" font-size="9.2" font-family="'Liberation Serif', serif" fill="#000" transform="translate(554.00,26.37) scale(1.05,1)">&#945;</text><text x="559.60" y="26.67" font-size="8.9" fill="#000">=</text><text x="564.60" y="26.37" font-size="8.9" fill="#000">0.25</text>
<line x1="531.95" y1="32.93" x2="548.85" y2="32.93" stroke="#fac332" stroke-width="1.4"/>
<text x="0" y="0" font-size="9.2" font-family="'Liberation Serif', serif" fill="#000" transform="translate(554.00,36.44) scale(1.05,1)">&#945;</text><text x="559.60" y="36.74" font-size="8.9" fill="#000">=</text><text x="564.60" y="36.44" font-size="8.9" fill="#000">0.50</text>
<line x1="531.95" y1="42.12" x2="548.85" y2="42.12" stroke="#46be78" stroke-width="1.4"/>
<text x="0" y="0" font-size="9.2" font-family="'Liberation Serif', serif" fill="#000" transform="translate(554.00,46.51) scale(1.05,1)">&#945;</text><text x="559.60" y="46.81" font-size="8.9" fill="#000">=</text><text x="564.60" y="46.51" font-size="8.9" fill="#000">0.75</text>
<line x1="531.95" y1="51.31" x2="548.85" y2="51.31" stroke="#4e4e94" stroke-width="1.4"/>
<text x="0" y="0" font-size="9.2" font-family="'Liberation Serif', serif" fill="#000" transform="translate(554.00,56.58) scale(1.05,1)">&#945;</text><text x="559.60" y="56.88" font-size="8.9" fill="#000">=</text><text x="564.60" y="56.58" font-size="8.9" fill="#000">1.00</text>
<text x="7.80" y="191.90" font-size="9.2" text-anchor="start" font-weight="bold" fill="#111" >e</text>
<rect x="40.60" y="197.90" width="115.40" height="116.70" fill="url(#g0)"/>
<path d="M33.90,198.40 H40.30 M33.90,256.75 H40.30 M33.90,314.30 H40.30 M40.60,314.60 V320.40 M98.30,314.60 V320.40 M155.60,314.60 V320.40" stroke="#4e4e4e" stroke-width="0.9" fill="none"/>
<text x="27.90" y="203.20" font-size="9.2" text-anchor="middle" font-weight="normal" fill="#000" >5</text>
<text x="27.90" y="262.30" font-size="9.2" text-anchor="middle" font-weight="normal" fill="#000" >0</text>
<text x="27.90" y="318.80" font-size="9.2" text-anchor="middle" font-weight="normal" fill="#000" >-5</text>
<text x="41.10" y="330.70" font-size="9.2" text-anchor="middle" font-weight="normal" fill="#000" >-5</text>
<text x="97.80" y="330.70" font-size="9.2" text-anchor="middle" font-weight="normal" fill="#000" >0</text>
<text x="156.20" y="330.70" font-size="9.2" text-anchor="middle" font-weight="normal" fill="#000" >5</text>
<text x="28.50" y="192.90" font-size="9.2" text-anchor="start" font-weight="bold" fill="#111" >i</text>
<text x="0" y="0" font-size="9.2" font-family="'Liberation Serif', serif" fill="#000" transform="translate(114.00,333.10) scale(1.25,1)">&#945;</text><text x="120.20" y="333.40" font-size="9.1" fill="#000">=</text><text x="125.30" y="333.10" font-size="9.1" fill="#000">0.25</text>
<rect x="200.80" y="197.90" width="115.40" height="1.10" fill="url(#g1s0)"/>
<rect x="200.80" y="199.00" width="115.40" height="1.00" fill="url(#g1s1)" shape-rendering="crispEdges"/>
<rect x="200.80" y="200.00" width="115.40" height="2.00" fill="url(#g1s2)" shape-rendering="crispEdges"/>
<rect x="200.80" y="202.00" width="115.40" height="2.00" fill="url(#g1s3)" shape-rendering="crispEdges"/>
<rect x="200.80" y="204.00" width="115.40" height="2.00" fill="url(#g1s4)" shape-rendering="crispEdges"/>
<rect x="200.80" y="206.00" width="115.40" height="2.00" fill="url(#g1s5)" shape-rendering="crispEdges"/>
<rect x="200.80" y="208.00" width="115.40" height="2.00" fill="url(#g1s6)" shape-rendering="crispEdges"/>
<rect x="200.80" y="210.00" width="115.40" height="2.00" fill="url(#g1s7)" shape-rendering="crispEdges"/>
<rect x="200.80" y="212.00" width="115.40" height="2.00" fill="url(#g1s8)" shape-rendering="crispEdges"/>
<rect x="200.80" y="214.00" width="115.40" height="2.00" fill="url(#g1s9)" shape-rendering="crispEdges"/>
<rect x="200.80" y="216.00" width="115.40" height="2.00" fill="url(#g1s10)" shape-rendering="crispEdges"/>
<rect x="200.80" y="218.00" width="115.40" height="2.00" fill="url(#g1s11)" shape-rendering="crispEdges"/>
<rect x="200.80" y="220.00" width="115.40" height="2.00" fill="url(#g1s12)" shape-rendering="crispEdges"/>
<rect x="200.80" y="222.00" width="115.40" height="2.00" fill="url(#g1s13)" shape-rendering="crispEdges"/>
<rect x="200.80" y="224.00" width="115.40" height="2.00" fill="url(#g1s14)" shape-rendering="crispEdges"/>
<rect x="200.80" y="226.00" width="115.40" height="2.00" fill="url(#g1s15)" shape-rendering="crispEdges"/>
<rect x="200.80" y="228.00" width="115.40" height="2.00" fill="url(#g1s16)" shape-rendering="crispEdges"/>
<rect x="200.80" y="230.00" width="115.40" height="2.00" fill="url(#g1s17)" shape-rendering="crispEdges"/>
<rect x="200.80" y="232.00" width="115.40" height="2.00" fill="url(#g1s18)" shape-rendering="crispEdges"/>
<rect x="200.80" y="234.00" width="115.40" height="2.00" fill="url(#g1s19)" shape-rendering="crispEdges"/>
<rect x="200.80" y="236.00" width="115.40" height="2.00" fill="url(#g1s20)" shape-rendering="crispEdges"/>
<rect x="200.80" y="238.00" width="115.40" height="2.00" fill="url(#g1s21)" shape-rendering="crispEdges"/>
<rect x="200.80" y="240.00" width="115.40" height="2.00" fill="url(#g1s22)" shape-rendering="crispEdges"/>
<rect x="200.80" y="242.00" width="115.40" height="2.00" fill="url(#g1s23)" shape-rendering="crispEdges"/>
<rect x="200.80" y="244.00" width="115.40" height="2.00" fill="url(#g1s24)" shape-rendering="crispEdges"/>
<rect x="200.80" y="246.00" width="115.40" height="2.00" fill="url(#g1s25)" shape-rendering="crispEdges"/>
<rect x="200.80" y="248.00" width="115.40" height="2.00" fill="url(#g1s26)" shape-rendering="crispEdges"/>
<rect x="200.80" y="250.00" width="115.40" height="2.00" fill="url(#g1s27)" shape-rendering="crispEdges"/>
<rect x="200.80" y="252.00" width="115.40" height="2.00" fill="url(#g1s28)" shape-rendering="crispEdges"/>
<rect x="200.80" y="254.00" width="115.40" height="2.00" fill="url(#g1s29)" shape-rendering="crispEdges"/>
<rect x="200.80" y="256.00" width="115.40" height="2.00" fill="url(#g1s30)" shape-rendering="crispEdges"/>
<rect x="200.80" y="258.00" width="115.40" height="2.00" fill="url(#g1s31)" shape-rendering="crispEdges"/>
<rect x="200.80" y="260.00" width="115.40" height="2.00" fill="url(#g1s32)" shape-rendering="crispEdges"/>
<rect x="200.80" y="262.00" width="115.40" height="2.00" fill="url(#g1s33)" shape-rendering="crispEdges"/>
<rect x="200.80" y="264.00" width="115.40" height="2.00" fill="url(#g1s34)" shape-rendering="crispEdges"/>
<rect x="200.80" y="266.00" width="115.40" height="2.00" fill="url(#g1s35)" shape-rendering="crispEdges"/>
<rect x="200.80" y="268.00" width="115.40" height="2.00" fill="url(#g1s36)" shape-rendering="crispEdges"/>
<rect x="200.80" y="270.00" width="115.40" height="2.00" fill="url(#g1s37)" shape-rendering="crispEdges"/>
<rect x="200.80" y="272.00" width="115.40" height="2.00" fill="url(#g1s38)" shape-rendering="crispEdges"/>
<rect x="200.80" y="274.00" width="115.40" height="2.00" fill="url(#g1s39)" shape-rendering="crispEdges"/>
<rect x="200.80" y="276.00" width="115.40" height="2.00" fill="url(#g1s40)" shape-rendering="crispEdges"/>
<rect x="200.80" y="278.00" width="115.40" height="2.00" fill="url(#g1s41)" shape-rendering="crispEdges"/>
<rect x="200.80" y="280.00" width="115.40" height="2.00" fill="url(#g1s42)" shape-rendering="crispEdges"/>
<rect x="200.80" y="282.00" width="115.40" height="2.00" fill="url(#g1s43)" shape-rendering="crispEdges"/>
<rect x="200.80" y="284.00" width="115.40" height="2.00" fill="url(#g1s44)" shape-rendering="crispEdges"/>
<rect x="200.80" y="286.00" width="115.40" height="2.00" fill="url(#g1s45)" shape-rendering="crispEdges"/>
<rect x="200.80" y="288.00" width="115.40" height="2.00" fill="url(#g1s46)" shape-rendering="crispEdges"/>
<rect x="200.80" y="290.00" width="115.40" height="2.00" fill="url(#g1s47)" shape-rendering="crispEdges"/>
<rect x="200.80" y="292.00" width="115.40" height="2.00" fill="url(#g1s48)" shape-rendering="crispEdges"/>
<rect x="200.80" y="294.00" width="115.40" height="2.00" fill="url(#g1s49)" shape-rendering="crispEdges"/>
<rect x="200.80" y="296.00" width="115.40" height="2.00" fill="url(#g1s50)" shape-rendering="crispEdges"/>
<rect x="200.80" y="298.00" width="115.40" height="2.00" fill="url(#g1s51)" shape-rendering="crispEdges"/>
<rect x="200.80" y="300.00" width="115.40" height="2.00" fill="url(#g1s52)" shape-rendering="crispEdges"/>
<rect x="200.80" y="302.00" width="115.40" height="2.00" fill="url(#g1s53)" shape-rendering="crispEdges"/>
<rect x="200.80" y="304.00" width="115.40" height="2.00" fill="url(#g1s54)" shape-rendering="crispEdges"/>
<rect x="200.80" y="306.00" width="115.40" height="2.00" fill="url(#g1s55)" shape-rendering="crispEdges"/>
<rect x="200.80" y="308.00" width="115.40" height="2.00" fill="url(#g1s56)" shape-rendering="crispEdges"/>
<rect x="200.80" y="310.00" width="115.40" height="2.00" fill="url(#g1s57)" shape-rendering="crispEdges"/>
<rect x="200.80" y="312.00" width="115.40" height="2.60" fill="url(#g1s58)"/>
<path d="M194.10,198.40 H200.50 M194.10,256.75 H200.50 M194.10,314.30 H200.50 M200.80,314.60 V320.40 M258.50,314.60 V320.40 M315.80,314.60 V320.40" stroke="#4e4e4e" stroke-width="0.9" fill="none"/>
<text x="188.10" y="203.20" font-size="9.2" text-anchor="middle" font-weight="normal" fill="#000" >5</text>
<text x="188.10" y="262.30" font-size="9.2" text-anchor="middle" font-weight="normal" fill="#000" >0</text>
<text x="188.10" y="318.80" font-size="9.2" text-anchor="middle" font-weight="normal" fill="#000" >-5</text>
<text x="201.30" y="330.70" font-size="9.2" text-anchor="middle" font-weight="normal" fill="#000" >-5</text>
<text x="258.00" y="330.70" font-size="9.2" text-anchor="middle" font-weight="normal" fill="#000" >0</text>
<text x="316.40" y="330.70" font-size="9.2" text-anchor="middle" font-weight="normal" fill="#000" >5</text>
<text x="188.60" y="192.90" font-size="9.2" text-anchor="start" font-weight="bold" fill="#111" >ii</text>
<text x="0" y="0" font-size="9.2" font-family="'Liberation Serif', serif" fill="#000" transform="translate(274.70,333.10) scale(1.25,1)">&#945;</text><text x="280.90" y="333.40" font-size="9.1" fill="#000">=</text><text x="286.00" y="333.10" font-size="9.1" fill="#000">0.50</text>
<rect x="362.90" y="197.90" width="114.80" height="1.10" fill="url(#g2s0)"/>
<rect x="362.90" y="199.00" width="114.80" height="1.00" fill="url(#g2s1)" shape-rendering="crispEdges"/>
<rect x="362.90" y="200.00" width="114.80" height="2.00" fill="url(#g2s2)" shape-rendering="crispEdges"/>
<rect x="362.90" y="202.00" width="114.80" height="2.00" fill="url(#g2s3)" shape-rendering="crispEdges"/>
<rect x="362.90" y="204.00" width="114.80" height="2.00" fill="url(#g2s4)" shape-rendering="crispEdges"/>
<rect x="362.90" y="206.00" width="114.80" height="2.00" fill="url(#g2s5)" shape-rendering="crispEdges"/>
<rect x="362.90" y="208.00" width="114.80" height="2.00" fill="url(#g2s6)" shape-rendering="crispEdges"/>
<rect x="362.90" y="210.00" width="114.80" height="2.00" fill="url(#g2s7)" shape-rendering="crispEdges"/>
<rect x="362.90" y="212.00" width="114.80" height="2.00" fill="url(#g2s8)" shape-rendering="crispEdges"/>
<rect x="362.90" y="214.00" width="114.80" height="2.00" fill="url(#g2s9)" shape-rendering="crispEdges"/>
<rect x="362.90" y="216.00" width="114.80" height="2.00" fill="url(#g2s10)" shape-rendering="crispEdges"/>
<rect x="362.90" y="218.00" width="114.80" height="2.00" fill="url(#g2s11)" shape-rendering="crispEdges"/>
<rect x="362.90" y="220.00" width="114.80" height="2.00" fill="url(#g2s12)" shape-rendering="crispEdges"/>
<rect x="362.90" y="222.00" width="114.80" height="2.00" fill="url(#g2s13)" shape-rendering="crispEdges"/>
<rect x="362.90" y="224.00" width="114.80" height="2.00" fill="url(#g2s14)" shape-rendering="crispEdges"/>
<rect x="362.90" y="226.00" width="114.80" height="2.00" fill="url(#g2s15)" shape-rendering="crispEdges"/>
<rect x="362.90" y="228.00" width="114.80" height="2.00" fill="url(#g2s16)" shape-rendering="crispEdges"/>
<rect x="362.90" y="230.00" width="114.80" height="2.00" fill="url(#g2s17)" shape-rendering="crispEdges"/>
<rect x="362.90" y="232.00" width="114.80" height="2.00" fill="url(#g2s18)" shape-rendering="crispEdges"/>
<rect x="362.90" y="234.00" width="114.80" height="2.00" fill="url(#g2s19)" shape-rendering="crispEdges"/>
<rect x="362.90" y="236.00" width="114.80" height="2.00" fill="url(#g2s20)" shape-rendering="crispEdges"/>
<rect x="362.90" y="238.00" width="114.80" height="2.00" fill="url(#g2s21)" shape-rendering="crispEdges"/>
<rect x="362.90" y="240.00" width="114.80" height="2.00" fill="url(#g2s22)" shape-rendering="crispEdges"/>
<rect x="362.90" y="242.00" width="114.80" height="2.00" fill="url(#g2s23)" shape-rendering="crispEdges"/>
<rect x="362.90" y="244.00" width="114.80" height="2.00" fill="url(#g2s24)" shape-rendering="crispEdges"/>
<rect x="362.90" y="246.00" width="114.80" height="2.00" fill="url(#g2s25)" shape-rendering="crispEdges"/>
<rect x="362.90" y="248.00" width="114.80" height="2.00" fill="url(#g2s26)" shape-rendering="crispEdges"/>
<rect x="362.90" y="250.00" width="114.80" height="2.00" fill="url(#g2s27)" shape-rendering="crispEdges"/>
<rect x="362.90" y="252.00" width="114.80" height="2.00" fill="url(#g2s28)" shape-rendering="crispEdges"/>
<rect x="362.90" y="254.00" width="114.80" height="2.00" fill="url(#g2s29)" shape-rendering="crispEdges"/>
<rect x="362.90" y="256.00" width="114.80" height="2.00" fill="url(#g2s30)" shape-rendering="crispEdges"/>
<rect x="362.90" y="258.00" width="114.80" height="2.00" fill="url(#g2s31)" shape-rendering="crispEdges"/>
<rect x="362.90" y="260.00" width="114.80" height="2.00" fill="url(#g2s32)" shape-rendering="crispEdges"/>
<rect x="362.90" y="262.00" width="114.80" height="2.00" fill="url(#g2s33)" shape-rendering="crispEdges"/>
<rect x="362.90" y="264.00" width="114.80" height="2.00" fill="url(#g2s34)" shape-rendering="crispEdges"/>
<rect x="362.90" y="266.00" width="114.80" height="2.00" fill="url(#g2s35)" shape-rendering="crispEdges"/>
<rect x="362.90" y="268.00" width="114.80" height="2.00" fill="url(#g2s36)" shape-rendering="crispEdges"/>
<rect x="362.90" y="270.00" width="114.80" height="2.00" fill="url(#g2s37)" shape-rendering="crispEdges"/>
<rect x="362.90" y="272.00" width="114.80" height="2.00" fill="url(#g2s38)" shape-rendering="crispEdges"/>
<rect x="362.90" y="274.00" width="114.80" height="2.00" fill="url(#g2s39)" shape-rendering="crispEdges"/>
<rect x="362.90" y="276.00" width="114.80" height="2.00" fill="url(#g2s40)" shape-rendering="crispEdges"/>
<rect x="362.90" y="278.00" width="114.80" height="2.00" fill="url(#g2s41)" shape-rendering="crispEdges"/>
<rect x="362.90" y="280.00" width="114.80" height="2.00" fill="url(#g2s42)" shape-rendering="crispEdges"/>
<rect x="362.90" y="282.00" width="114.80" height="2.00" fill="url(#g2s43)" shape-rendering="crispEdges"/>
<rect x="362.90" y="284.00" width="114.80" height="2.00" fill="url(#g2s44)" shape-rendering="crispEdges"/>
<rect x="362.90" y="286.00" width="114.80" height="2.00" fill="url(#g2s45)" shape-rendering="crispEdges"/>
<rect x="362.90" y="288.00" width="114.80" height="2.00" fill="url(#g2s46)" shape-rendering="crispEdges"/>
<rect x="362.90" y="290.00" width="114.80" height="2.00" fill="url(#g2s47)" shape-rendering="crispEdges"/>
<rect x="362.90" y="292.00" width="114.80" height="2.00" fill="url(#g2s48)" shape-rendering="crispEdges"/>
<rect x="362.90" y="294.00" width="114.80" height="2.00" fill="url(#g2s49)" shape-rendering="crispEdges"/>
<rect x="362.90" y="296.00" width="114.80" height="2.00" fill="url(#g2s50)" shape-rendering="crispEdges"/>
<rect x="362.90" y="298.00" width="114.80" height="2.00" fill="url(#g2s51)" shape-rendering="crispEdges"/>
<rect x="362.90" y="300.00" width="114.80" height="2.00" fill="url(#g2s52)" shape-rendering="crispEdges"/>
<rect x="362.90" y="302.00" width="114.80" height="2.00" fill="url(#g2s53)" shape-rendering="crispEdges"/>
<rect x="362.90" y="304.00" width="114.80" height="2.00" fill="url(#g2s54)" shape-rendering="crispEdges"/>
<rect x="362.90" y="306.00" width="114.80" height="2.00" fill="url(#g2s55)" shape-rendering="crispEdges"/>
<rect x="362.90" y="308.00" width="114.80" height="2.00" fill="url(#g2s56)" shape-rendering="crispEdges"/>
<rect x="362.90" y="310.00" width="114.80" height="2.00" fill="url(#g2s57)" shape-rendering="crispEdges"/>
<rect x="362.90" y="312.00" width="114.80" height="2.60" fill="url(#g2s58)"/>
<path d="M356.20,198.40 H362.60 M356.20,256.75 H362.60 M356.20,314.30 H362.60 M362.90,314.60 V320.40 M420.30,314.60 V320.40 M477.30,314.60 V320.40" stroke="#4e4e4e" stroke-width="0.9" fill="none"/>
<text x="350.20" y="203.20" font-size="9.2" text-anchor="middle" font-weight="normal" fill="#000" >5</text>
<text x="350.20" y="262.30" font-size="9.2" text-anchor="middle" font-weight="normal" fill="#000" >0</text>
<text x="350.20" y="318.80" font-size="9.2" text-anchor="middle" font-weight="normal" fill="#000" >-5</text>
<text x="363.40" y="330.70" font-size="9.2" text-anchor="middle" font-weight="normal" fill="#000" >-5</text>
<text x="419.80" y="330.70" font-size="9.2" text-anchor="middle" font-weight="normal" fill="#000" >0</text>
<text x="477.90" y="330.70" font-size="9.2" text-anchor="middle" font-weight="normal" fill="#000" >5</text>
<text x="350.00" y="192.90" font-size="9.2" text-anchor="start" font-weight="bold" fill="#111" >iii</text>
<text x="0" y="0" font-size="9.2" font-family="'Liberation Serif', serif" fill="#000" transform="translate(436.70,333.10) scale(1.25,1)">&#945;</text><text x="442.90" y="333.40" font-size="9.1" fill="#000">=</text><text x="448.00" y="333.10" font-size="9.1" fill="#000">0.75</text>
<rect x="519.80" y="197.90" width="114.80" height="1.10" fill="url(#g3s0)"/>
<rect x="519.80" y="199.00" width="114.80" height="1.00" fill="url(#g3s1)" shape-rendering="crispEdges"/>
<rect x="519.80" y="200.00" width="114.80" height="2.00" fill="url(#g3s2)" shape-rendering="crispEdges"/>
<rect x="519.80" y="202.00" width="114.80" height="2.00" fill="url(#g3s3)" shape-rendering="crispEdges"/>
<rect x="519.80" y="204.00" width="114.80" height="2.00" fill="url(#g3s4)" shape-rendering="crispEdges"/>
<rect x="519.80" y="206.00" width="114.80" height="2.00" fill="url(#g3s5)" shape-rendering="crispEdges"/>
<rect x="519.80" y="208.00" width="114.80" height="2.00" fill="url(#g3s6)" shape-rendering="crispEdges"/>
<rect x="519.80" y="210.00" width="114.80" height="2.00" fill="url(#g3s7)" shape-rendering="crispEdges"/>
<rect x="519.80" y="212.00" width="114.80" height="2.00" fill="url(#g3s8)" shape-rendering="crispEdges"/>
<rect x="519.80" y="214.00" width="114.80" height="2.00" fill="url(#g3s9)" shape-rendering="crispEdges"/>
<rect x="519.80" y="216.00" width="114.80" height="2.00" fill="url(#g3s10)" shape-rendering="crispEdges"/>
<rect x="519.80" y="218.00" width="114.80" height="2.00" fill="url(#g3s11)" shape-rendering="crispEdges"/>
<rect x="519.80" y="220.00" width="114.80" height="2.00" fill="url(#g3s12)" shape-rendering="crispEdges"/>
<rect x="519.80" y="222.00" width="114.80" height="2.00" fill="url(#g3s13)" shape-rendering="crispEdges"/>
<rect x="519.80" y="224.00" width="114.80" height="2.00" fill="url(#g3s14)" shape-rendering="crispEdges"/>
<rect x="519.80" y="226.00" width="114.80" height="2.00" fill="url(#g3s15)" shape-rendering="crispEdges"/>
<rect x="519.80" y="228.00" width="114.80" height="2.00" fill="url(#g3s16)" shape-rendering="crispEdges"/>
<rect x="519.80" y="230.00" width="114.80" height="2.00" fill="url(#g3s17)" shape-rendering="crispEdges"/>
<rect x="519.80" y="232.00" width="114.80" height="2.00" fill="url(#g3s18)" shape-rendering="crispEdges"/>
<rect x="519.80" y="234.00" width="114.80" height="2.00" fill="url(#g3s19)" shape-rendering="crispEdges"/>
<rect x="519.80" y="236.00" width="114.80" height="2.00" fill="url(#g3s20)" shape-rendering="crispEdges"/>
<rect x="519.80" y="238.00" width="114.80" height="2.00" fill="url(#g3s21)" shape-rendering="crispEdges"/>
<rect x="519.80" y="240.00" width="114.80" height="2.00" fill="url(#g3s22)" shape-rendering="crispEdges"/>
<rect x="519.80" y="242.00" width="114.80" height="2.00" fill="url(#g3s23)" shape-rendering="crispEdges"/>
<rect x="519.80" y="244.00" width="114.80" height="2.00" fill="url(#g3s24)" shape-rendering="crispEdges"/>
<rect x="519.80" y="246.00" width="114.80" height="2.00" fill="url(#g3s25)" shape-rendering="crispEdges"/>
<rect x="519.80" y="248.00" width="114.80" height="2.00" fill="url(#g3s26)" shape-rendering="crispEdges"/>
<rect x="519.80" y="250.00" width="114.80" height="2.00" fill="url(#g3s27)" shape-rendering="crispEdges"/>
<rect x="519.80" y="252.00" width="114.80" height="2.00" fill="url(#g3s28)" shape-rendering="crispEdges"/>
<rect x="519.80" y="254.00" width="114.80" height="2.00" fill="url(#g3s29)" shape-rendering="crispEdges"/>
<rect x="519.80" y="256.00" width="114.80" height="2.00" fill="url(#g3s30)" shape-rendering="crispEdges"/>
<rect x="519.80" y="258.00" width="114.80" height="2.00" fill="url(#g3s31)" shape-rendering="crispEdges"/>
<rect x="519.80" y="260.00" width="114.80" height="2.00" fill="url(#g3s32)" shape-rendering="crispEdges"/>
<rect x="519.80" y="262.00" width="114.80" height="2.00" fill="url(#g3s33)" shape-rendering="crispEdges"/>
<rect x="519.80" y="264.00" width="114.80" height="2.00" fill="url(#g3s34)" shape-rendering="crispEdges"/>
<rect x="519.80" y="266.00" width="114.80" height="2.00" fill="url(#g3s35)" shape-rendering="crispEdges"/>
<rect x="519.80" y="268.00" width="114.80" height="2.00" fill="url(#g3s36)" shape-rendering="crispEdges"/>
<rect x="519.80" y="270.00" width="114.80" height="2.00" fill="url(#g3s37)" shape-rendering="crispEdges"/>
<rect x="519.80" y="272.00" width="114.80" height="2.00" fill="url(#g3s38)" shape-rendering="crispEdges"/>
<rect x="519.80" y="274.00" width="114.80" height="2.00" fill="url(#g3s39)" shape-rendering="crispEdges"/>
<rect x="519.80" y="276.00" width="114.80" height="2.00" fill="url(#g3s40)" shape-rendering="crispEdges"/>
<rect x="519.80" y="278.00" width="114.80" height="2.00" fill="url(#g3s41)" shape-rendering="crispEdges"/>
<rect x="519.80" y="280.00" width="114.80" height="2.00" fill="url(#g3s42)" shape-rendering="crispEdges"/>
<rect x="519.80" y="282.00" width="114.80" height="2.00" fill="url(#g3s43)" shape-rendering="crispEdges"/>
<rect x="519.80" y="284.00" width="114.80" height="2.00" fill="url(#g3s44)" shape-rendering="crispEdges"/>
<rect x="519.80" y="286.00" width="114.80" height="2.00" fill="url(#g3s45)" shape-rendering="crispEdges"/>
<rect x="519.80" y="288.00" width="114.80" height="2.00" fill="url(#g3s46)" shape-rendering="crispEdges"/>
<rect x="519.80" y="290.00" width="114.80" height="2.00" fill="url(#g3s47)" shape-rendering="crispEdges"/>
<rect x="519.80" y="292.00" width="114.80" height="2.00" fill="url(#g3s48)" shape-rendering="crispEdges"/>
<rect x="519.80" y="294.00" width="114.80" height="2.00" fill="url(#g3s49)" shape-rendering="crispEdges"/>
<rect x="519.80" y="296.00" width="114.80" height="2.00" fill="url(#g3s50)" shape-rendering="crispEdges"/>
<rect x="519.80" y="298.00" width="114.80" height="2.00" fill="url(#g3s51)" shape-rendering="crispEdges"/>
<rect x="519.80" y="300.00" width="114.80" height="2.00" fill="url(#g3s52)" shape-rendering="crispEdges"/>
<rect x="519.80" y="302.00" width="114.80" height="2.00" fill="url(#g3s53)" shape-rendering="crispEdges"/>
<rect x="519.80" y="304.00" width="114.80" height="2.00" fill="url(#g3s54)" shape-rendering="crispEdges"/>
<rect x="519.80" y="306.00" width="114.80" height="2.00" fill="url(#g3s55)" shape-rendering="crispEdges"/>
<rect x="519.80" y="308.00" width="114.80" height="2.00" fill="url(#g3s56)" shape-rendering="crispEdges"/>
<rect x="519.80" y="310.00" width="114.80" height="2.00" fill="url(#g3s57)" shape-rendering="crispEdges"/>
<rect x="519.80" y="312.00" width="114.80" height="2.60" fill="url(#g3s58)"/>
<path d="M513.10,198.40 H519.50 M513.10,256.75 H519.50 M513.10,314.30 H519.50 M519.80,314.60 V320.40 M577.20,314.60 V320.40 M634.20,314.60 V320.40" stroke="#4e4e4e" stroke-width="0.9" fill="none"/>
<text x="507.10" y="203.20" font-size="9.2" text-anchor="middle" font-weight="normal" fill="#000" >5</text>
<text x="507.10" y="262.30" font-size="9.2" text-anchor="middle" font-weight="normal" fill="#000" >0</text>
<text x="507.10" y="318.80" font-size="9.2" text-anchor="middle" font-weight="normal" fill="#000" >-5</text>
<text x="520.30" y="330.70" font-size="9.2" text-anchor="middle" font-weight="normal" fill="#000" >-5</text>
<text x="576.70" y="330.70" font-size="9.2" text-anchor="middle" font-weight="normal" fill="#000" >0</text>
<text x="634.80" y="330.70" font-size="9.2" text-anchor="middle" font-weight="normal" fill="#000" >5</text>
<text x="504.90" y="192.90" font-size="9.2" text-anchor="start" font-weight="bold" fill="#111" >iv</text>
<text x="0" y="0" font-size="9.2" font-family="'Liberation Serif', serif" fill="#000" transform="translate(595.20,333.10) scale(1.25,1)">&#945;</text><text x="601.40" y="333.40" font-size="9.1" fill="#000">=</text><text x="606.50" y="333.10" font-size="9.1" fill="#000">1.00</text>
<rect x="645.50" y="269.00" width="10.50" height="42.90" fill="url(#cb)" stroke="#333" stroke-width="0.8"/>
<path d="M645.50,278.40 h1.3 M656.00,278.40 h-1.3 M645.50,289.30 h1.3 M656.00,289.30 h-1.3 M645.50,301.50 h1.3 M656.00,301.50 h-1.3" stroke="#333" stroke-width="0.8"/>
<text x="658.40" y="314.50" font-size="9.2" text-anchor="start" font-weight="normal" fill="#000" >15</text>
<text x="658.40" y="292.50" font-size="9.2" text-anchor="start" font-weight="normal" fill="#000" >20</text>
<text x="658.40" y="272.30" font-size="9.2" text-anchor="start" font-weight="normal" fill="#000" >25</text>
<text x="641.50" y="260.70" font-size="9.2" text-anchor="start" font-weight="normal" fill="#000" >(mT)</text>
<path d="M10.3,338.6 V324.5" stroke="#4cb050" stroke-width="1.1" fill="none"/>
<path d="M8.7,325.2 L10.3,322 L11.9,325.2 Z" fill="#4cb050"/>
<path d="M10.3,338.6 H24.6" stroke="#d8185c" stroke-width="1.1" fill="none"/>
<path d="M24.2,337.0 L27.4,338.6 L24.2,340.2 Z" fill="#d8185c"/>
<text x="9.40" y="319.00" font-size="9.2" text-anchor="start" font-weight="normal" fill="#000" >y</text>
<text x="30.20" y="342.40" font-size="9.2" text-anchor="start" font-weight="normal" fill="#000" >x</text>
</svg>
</body></html>
